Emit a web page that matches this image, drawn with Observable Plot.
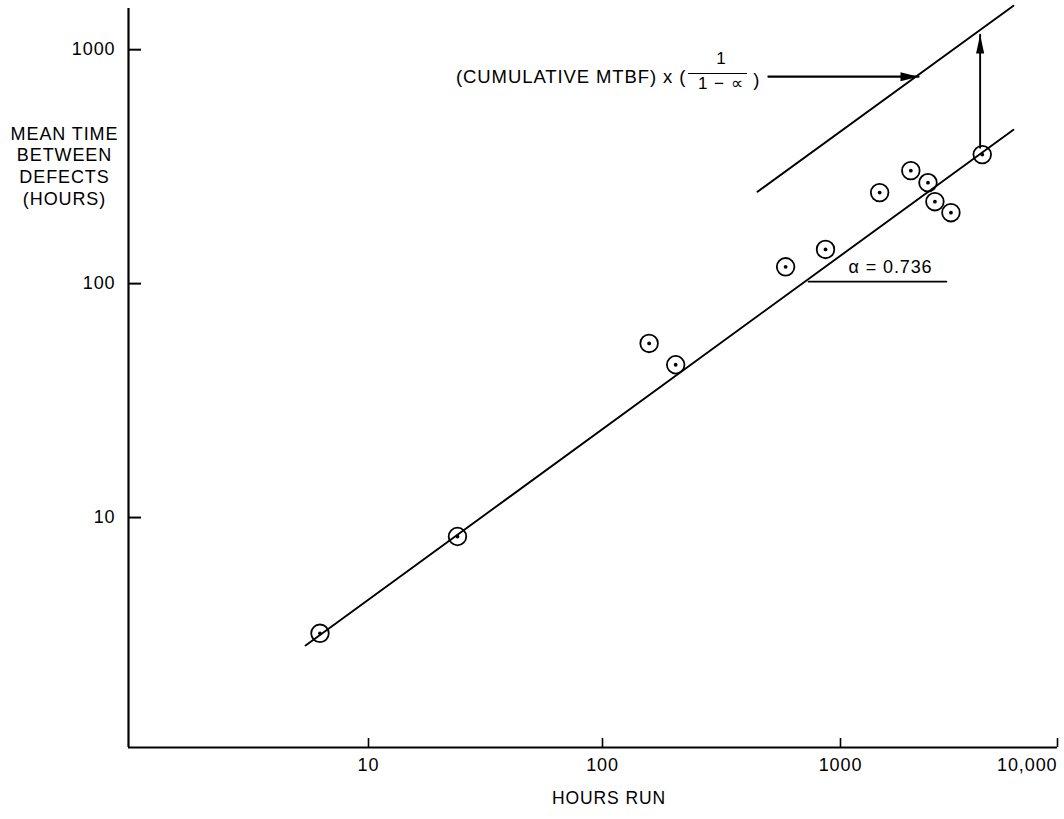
<!DOCTYPE html>
<html>
<head>
<meta charset="utf-8">
<script src="https://cdn.jsdelivr.net/npm/d3@7"></script>
<script src="https://cdn.jsdelivr.net/npm/@observablehq/plot@0.6"></script>
<style>
html, body { margin: 0; padding: 0; background: #fff; overflow: hidden; }
</style>
</head>
<body>
<div id="chart"></div>
<script>
// ---- axes ----
const xTicks = [10, 100, 1000, 10000];
const xTickLabels = ["10", "100", "1000", "10,000"];
const yTicks = [10, 100, 1000];
const yTickLabels = ["10", "100", "1000"];
const xAxisStart = 0.94;       // hours at left end of the x axis
const yAxisStart = 1.04;       // MTBD at bottom of the y axis
const yAxisEnd = 1500;

// ---- observed points ----
const hoursRun = [6.2, 24, 157, 203, 588, 865, 1515, 2109, 2530, 2723, 3228, 4500];
const meanTimeBetweenDefects = [3.2, 8.3, 55.5, 45, 118, 140, 245, 304, 270, 224, 201, 356];

// ---- fitted cumulative line and instantaneous line ----
const fitX = [5.38, 6266];
const fitY = [2.84, 455];
const upperX = [448, 6266];
const upperY = [247, 1542];

// ---- annotations ----
const alphaLineX = [734, 3077];
const alphaLineY = [102, 102];
const alphaLabel = ["α = 0.736"];
const alphaLabelX = [1088];
const alphaLabelY = [117];

const vArrowX = [4400, 4400];
const vArrowY = [381, 1159];
const hArrowX = [498, 2288];
const hArrowY = [767, 767];

const formulaText = ["(CUMULATIVE MTBF) x ("];
const formulaX = [225];
const formulaY = [760];
const fracNumX = [316];
const fracNumY = [917];
const fracBarX = [230, 403];
const fracBarY = [791, 791];
const fracDenText = ["1 − ∝"];
const fracDenX = [314];
const fracDenY = [720];
const closeParenX = [445];
const closeParenY = [745];

const yTitle = "MEAN TIME\nBETWEEN\nDEFECTS\n(HOURS)";
const xTitle = "HOURS RUN";

const points = hoursRun.map((h, i) => ({h, m: meanTimeBetweenDefects[i]}));
const pairs = (xs, ys) => xs.map((x, i) => ({x, y: ys[i]}));

const headUp = {draw(c, size) { const r = Math.sqrt(size / Math.PI); c.moveTo(0, 0); c.lineTo(-r * 0.45, r * 2.1); c.lineTo(r * 0.45, r * 2.1); c.closePath(); }};
const headRight = {draw(c, size) { const r = Math.sqrt(size / Math.PI); c.moveTo(0, 0); c.lineTo(-r * 2, -r * 0.5); c.lineTo(-r * 2, r * 0.5); c.closePath(); }};

const font = "'Liberation Sans', Arial, Helvetica, sans-serif";

const chart = Plot.plot({
  width: 1064,
  height: 819,
  marginLeft: 128,
  marginRight: 7,
  marginTop: 8,
  marginBottom: 72,
  style: {fontFamily: font, fontSize: "18px", background: "#fff", color: "#000", letterSpacing: "0.9px"},
  x: {type: "log", domain: [xAxisStart, 10, 100, 1000, 10000], range: [128, 368, 602, 840, 1057], axis: null},
  y: {type: "log", domain: [yAxisStart, yAxisEnd], axis: null},
  marks: [
    // axis lines
    Plot.ruleY([yAxisStart], {stroke: "#000", strokeWidth: 2.2}),
    Plot.ruleX([xAxisStart], {stroke: "#000", strokeWidth: 2.2}),
    // ticks (pointing inward)
    Plot.tickY(yTicks, {y: d => d, stroke: "#000", strokeWidth: 2, insetRight: 929 - 13}),
    Plot.tickX(xTicks, {x: d => d, stroke: "#000", strokeWidth: 1.6, insetTop: 739 - 9}),
    // tick labels
    Plot.text(yTicks, {x: xAxisStart, y: d => d, text: (d, i) => yTickLabels[i], textAnchor: "end", dx: -13, fontSize: 18}),
    Plot.text(xTicks.slice(0, 3), {x: d => d, y: yAxisStart, text: (d, i) => xTickLabels[i], dy: 18, fontSize: 18}),
    Plot.text(xTicks.slice(3), {x: d => d, y: yAxisStart, text: () => xTickLabels[3], textAnchor: "end", dy: 18, fontSize: 18}),
    // axis titles
    Plot.text([yTitle], {frameAnchor: "top-left", text: d => d, dx: -64, dy: 116, textAnchor: "middle", lineAnchor: "top", lineHeight: 1.2, fontSize: 18}),
    Plot.text([xTitle], {frameAnchor: "bottom", text: d => d, dx: 16, dy: 56, fontSize: 17.5}),
    // lines
    Plot.line(pairs(fitX, fitY), {x: "x", y: "y", stroke: "#000", strokeWidth: 1.9}),
    Plot.line(pairs(upperX, upperY), {x: "x", y: "y", stroke: "#000", strokeWidth: 1.9}),
    // points
    Plot.dot(points, {x: "h", y: "m", r: 8.8, stroke: "#000", strokeWidth: 1.8, fill: "none"}),
    Plot.dot(points, {x: "h", y: "m", r: 1.9, fill: "#000"}),
    // alpha annotation
    Plot.line(pairs(alphaLineX, alphaLineY), {x: "x", y: "y", stroke: "#000", strokeWidth: 1.7}),
    Plot.text(alphaLabel, {x: alphaLabelX, y: alphaLabelY, text: d => d, textAnchor: "start", fontSize: 18}),
    // vertical arrow
    Plot.line(pairs(vArrowX, vArrowY), {x: "x", y: "y", stroke: "#000", strokeWidth: 1.9}),
    Plot.dot([0], {x: vArrowX[1], y: vArrowY[1], symbol: headUp, r: 9, fill: "#000"}),
    // horizontal arrow
    Plot.line(pairs(hArrowX, hArrowY), {x: "x", y: "y", stroke: "#000", strokeWidth: 2.2}),
    Plot.dot([0], {x: hArrowX[1], y: hArrowY[1], symbol: headRight, r: 9, fill: "#000"}),
    // formula
    Plot.text(formulaText, {x: formulaX, y: formulaY, text: d => d, textAnchor: "end", fontSize: 18.5}),
    Plot.text(["1"], {x: fracNumX, y: fracNumY, text: d => d, fontSize: 17}),
    Plot.line(pairs(fracBarX, fracBarY), {x: "x", y: "y", stroke: "#000", strokeWidth: 1.2}),
    Plot.text(fracDenText, {x: fracDenX, y: fracDenY, text: d => d, fontSize: 17, letterSpacing: 1}),
    Plot.text([")"], {x: closeParenX, y: closeParenY, text: d => d, fontSize: 18.5})
  ]
});
document.getElementById("chart").appendChild(chart);
</script>
</body>
</html>
